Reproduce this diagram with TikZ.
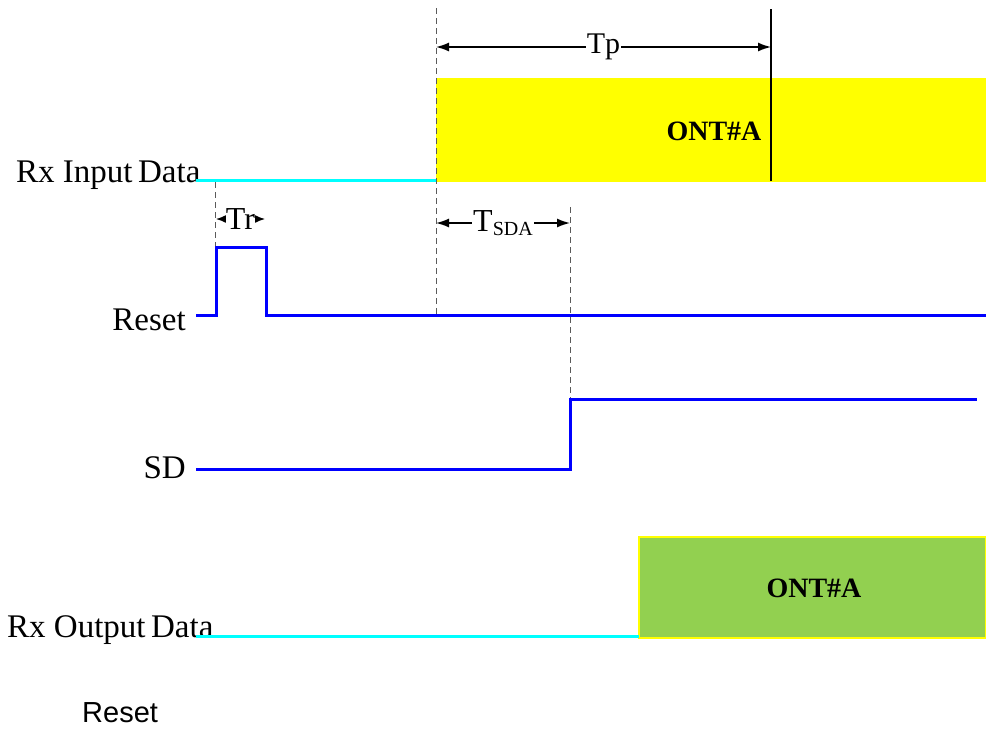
\documentclass[tikz,border=0pt]{standalone}
\usepackage{fontspec}
\setmainfont{Liberation Serif}
\newfontfamily\arialfont{Liberation Sans}
\usetikzlibrary{arrows.meta}
\definecolor{cyanline}{RGB}{0,255,255}
\definecolor{blueline}{RGB}{0,0,255}
\definecolor{yellowfill}{RGB}{255,255,0}
\definecolor{greenfill}{RGB}{146,208,80}
\definecolor{dashgray}{RGB}{90,90,90}
\tikzset{
  lbl/.style={inner sep=0pt, font=\fontsize{33}{38}\selectfont},
  onttext/.style={inner sep=0pt, font=\fontsize{28}{32}\selectfont\bfseries},
  cyanwave/.style={draw=cyanline, line width=3pt},
  bluewave/.style={draw=blueline, line width=3pt, line join=miter},
  guide/.style={draw=dashgray, line width=1pt, dash pattern=on 6pt off 4pt},
  dimarrow/.style={draw=black, line width=1.5pt, {Latex[length=13pt,width=9pt]}-{Latex[length=13pt,width=9pt]}},
  smallarrow/.style={draw=black, line width=1.5pt, {Latex[length=11pt,width=9pt]}-{Latex[length=11pt,width=9pt]}},
  dimlabel/.style={fill=white, inner sep=1pt, font=\fontsize{30}{34}\selectfont},
}
\begin{document}
\begin{tikzpicture}[x=1pt,y=-1pt]
\useasboundingbox (0,0) rectangle (986,729);

% yellow data block
\fill[yellowfill] (436,78) rectangle (986,182);
\node[onttext] (ontA) at (714,131) {ONT\#A};
% green data block
\filldraw[fill=greenfill, draw=yellowfill, line width=1.5pt] (639,537) rectangle (986,638);
\node[onttext] (ontB) at (814,588) {ONT\#A};

% guide lines
\coordinate (g1t) at (436,8);
\coordinate (g1b) at (436,315);
\draw[guide] (g1t) -- (g1b);
\coordinate (g2t) at (215,182);
\coordinate (g2b) at (215,247);
\draw[guide] (g2t) -- (g2b);
\coordinate (g3t) at (570,207);
\coordinate (g3b) at (570,469);
\draw[guide] (g3t) -- (g3b);

% Tp end marker
\coordinate (tpmt) at (771,9);
\coordinate (tpmb) at (771,181);
\draw[line width=2pt] (tpmt) -- (tpmb);

% dimension arrows
\coordinate (tpa) at (436,47);
\coordinate (tpb) at (771,47);
\draw[dimarrow] (tpa) -- node[dimlabel, pos=0.5] (tp) {Tp} (tpb);
\coordinate (tra) at (216,219);
\coordinate (trb) at (265,219);
\draw[smallarrow] (tra) -- node[dimlabel, inner sep=0pt, font=\fontsize{32}{34}\selectfont] (tr) {Tr} (trb);
\coordinate (tsa) at (436,223);
\coordinate (tsb) at (570,223);
\draw[dimarrow] (tsa) -- node[dimlabel, pos=0.5, font=\fontsize{32}{34}\selectfont] (tsda) {T\raisebox{-4pt}{\fontsize{20}{22}\selectfont SDA}} (tsb);

% Rx Input Data
\node[lbl, anchor=base west] (rxin) at (16,182) {Rx Input\,Data};
\coordinate (rxins) at (196,180);
\coordinate (rxine) at (436,180);
\draw[cyanwave] (rxins) -- (rxine);

% Reset waveform
\node[lbl, anchor=base east] (rst) at (186,330) {Reset};
\coordinate (r0) at (196,315);
\coordinate (r1) at (216,315);
\coordinate (r2) at (216,247);
\coordinate (r3) at (266,247);
\coordinate (r4) at (266,315);
\coordinate (r5) at (986,315);
\draw[bluewave] (r0) -- (r1) -- (r2) -- (r3) -- (r4) -- (r5);

% SD waveform
\node[lbl, anchor=base east] (sd) at (186,478) {SD};
\coordinate (s0) at (196,469);
\coordinate (s1) at (570,469);
\coordinate (s2) at (570,399);
\coordinate (s3) at (977,399);
\draw[bluewave] (s0) -- (s1) -- (s2) -- (s3);

% Rx Output Data
\node[lbl, anchor=base west] (rxout) at (7,637) {Rx Output\,Data};
\coordinate (rxos) at (196,636);
\coordinate (rxoe) at (639,636);
\draw[cyanwave] (rxos) -- (rxoe);

% bottom label
\node[inner sep=0pt, anchor=base west, font=\arialfont\fontsize{29}{33}\selectfont] (rstlbl) at (82,722) {Reset};
\end{tikzpicture}
\end{document}
